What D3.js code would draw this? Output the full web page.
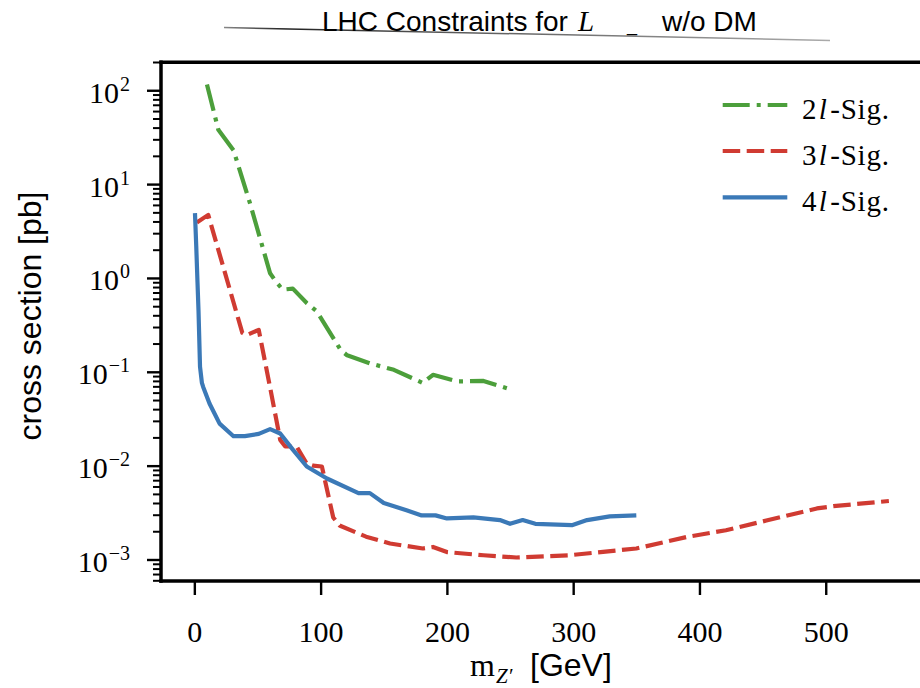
<!DOCTYPE html>
<html>
<head>
<meta charset="utf-8">
<script src="https://cdn.jsdelivr.net/npm/d3@7"></script>
<style>
  body { margin: 0; background: #fff; }
</style>
</head>
<body>
<script>
// data
var mass2l = [10, 19, 31, 44, 60, 65, 70, 78, 89, 97, 116, 121, 139, 158, 181, 189, 208, 229, 250];
var sig2l  = [115, 38, 23, 6.3, 1.12, 0.9, 0.75, 0.77, 0.54, 0.44, 0.17, 0.15, 0.123, 0.105, 0.076, 0.093, 0.079, 0.080, 0.065];

var mass3l = [2, 11, 38, 41, 51, 60, 68, 72, 81, 89, 94, 101, 110, 115, 136, 155, 181, 189, 200, 229, 255, 297, 350, 390, 421, 453, 493, 506, 550];
var sig3l  = [3.9, 4.7, 0.26, 0.245, 0.28, 0.068, 0.0188, 0.016, 0.016, 0.0105, 0.0100, 0.0098, 0.0028, 0.0023, 0.00175, 0.00148, 0.00131, 0.00136, 0.0012, 0.00111, 0.00105, 0.00111, 0.00131, 0.00174, 0.00205, 0.0026, 0.0035, 0.0037, 0.0042];

var mass4l = [0.5, 1.5, 2.5, 3.3, 4.5, 6, 7, 12, 20, 31, 40, 51, 60, 68, 78, 89, 105, 130, 139, 150, 168, 180, 191, 200, 221, 242, 250, 260, 270, 299, 311, 329, 350];
var sig4l  = [4.9, 2.2, 0.9, 0.45, 0.113, 0.076, 0.069, 0.046, 0.028, 0.0206, 0.0206, 0.0218, 0.0245, 0.022, 0.0148, 0.0098, 0.0073, 0.0051, 0.0051, 0.0040, 0.00335, 0.00295, 0.00295, 0.00274, 0.00281, 0.00263, 0.0024, 0.00263, 0.0024, 0.00232, 0.00263, 0.00288, 0.00295];

var seriesNames = ["2l", "3l", "4l"];
var xTicks = [0, 100, 200, 300, 400, 500];
var yTicks = [1e-3, 1e-2, 1e-1, 1e0, 1e1, 1e2];

window.onload = function(){

    var w = 920, h = 688;
    var serif = "'Liberation Serif', 'Times New Roman', serif";
    var sans = "'Liberation Sans', Arial, Helvetica, sans-serif";

    var svg = d3.select("body").append("svg")
        .attr("width", w)
        .attr("height", h);

    // gradient for the hand drawn line under the title
    var grad = svg.append("defs").append("linearGradient")
        .attr("id", "titleLine")
        .attr("gradientUnits", "userSpaceOnUse")
        .attr("x1", 224).attr("x2", 830).attr("y1", 0).attr("y2", 0);
    grad.append("stop").attr("offset", "0").attr("stop-color", "#888");
    grad.append("stop").attr("offset", "0.1").attr("stop-color", "#222");
    grad.append("stop").attr("offset", "0.35").attr("stop-color", "#555");
    grad.append("stop").attr("offset", "1").attr("stop-color", "#aaa");

    var x = d3.scaleLinear().domain([-26.4, 577.5]).range([161, 923.6]);
    var y = d3.scaleLog().domain([5.9e-4, 200]).range([581, 62]);

    // series styles
    var series = [
        {name: seriesNames[0], xs: mass2l, ys: sig2l, color: "#4c9f3b", dash: "27,7,4,7"},
        {name: seriesNames[1], xs: mass3l, ys: sig3l, color: "#d03b32", dash: "17.5,6.5"},
        {name: seriesNames[2], xs: mass4l, ys: sig4l, color: "#3b79b7", dash: null}
    ];

    var line = d3.line()
        .x(function(d){ return x(d[0]); })
        .y(function(d){ return y(d[1]); });

    svg.append("g").selectAll("path")
        .data(series)
        .enter().append("path")
        .attr("d", function(s){ return line(d3.zip(s.xs, s.ys)); })
        .attr("fill", "none")
        .attr("stroke", function(s){ return s.color; })
        .attr("stroke-width", 4.2)
        .attr("stroke-dasharray", function(s){ return s.dash; })
        .attr("stroke-linejoin", "round");

    // minor y ticks
    var minor = [];
    for (var e = -4; e <= 2; e++) {
        for (var m = 2; m <= 9; m++) {
            var v = m * Math.pow(10, e);
            if (v >= 5.9e-4 && v <= 200) minor.push(v);
        }
    }
    var yMinor = svg.append("g")
        .attr("transform", "translate(161,0)")
        .call(d3.axisLeft(y).tickValues(minor).tickSize(8).tickFormat(""));
    yMinor.select(".domain").remove();
    yMinor.selectAll("line").attr("stroke", "#000").attr("stroke-width", 2);

    // major y ticks
    var yAxis = svg.append("g")
        .attr("transform", "translate(161,0)")
        .call(d3.axisLeft(y).tickValues(yTicks).tickSize(14).tickFormat(""));
    yAxis.select(".domain").remove();
    yAxis.selectAll("line").attr("stroke", "#000").attr("stroke-width", 2.4);

    // y tick labels 10^k
    var yl = svg.append("g").selectAll("text")
        .data(yTicks)
        .enter().append("text")
        .attr("x", 130)
        .attr("y", function(d){ return y(d) + 12.5; })
        .attr("text-anchor", "end")
        .style("font-family", serif)
        .style("font-size", "30px");
    yl.append("tspan").text("10");
    yl.append("tspan")
        .attr("dy", -12)
        .attr("dx", 1)
        .style("font-size", "20px")
        .text(function(d){
            var k = Math.round(Math.log10(d));
            return k < 0 ? "\u2212" + (-k) : String(k);
        });

    // x axis
    var xAxis = svg.append("g")
        .attr("transform", "translate(0,581)")
        .call(d3.axisBottom(x).tickValues(xTicks).tickSize(14).tickPadding(26));
    xAxis.select(".domain").remove();
    xAxis.selectAll("line").attr("stroke", "#000").attr("stroke-width", 2.4);
    xAxis.selectAll("text")
        .attr("fill", "#000")
        .style("font-family", serif)
        .style("font-size", "30px");

    // spines
    svg.append("line").attr("x1", 161).attr("x2", 161).attr("y1", 60.5).attr("y2", 582.8)
        .attr("stroke", "#000").attr("stroke-width", 3.5);
    svg.append("line").attr("x1", 159.3).attr("x2", 920).attr("y1", 62.3).attr("y2", 62.3)
        .attr("stroke", "#000").attr("stroke-width", 3.5);
    svg.append("line").attr("x1", 159.3).attr("x2", 920).attr("y1", 581).attr("y2", 581)
        .attr("stroke", "#000").attr("stroke-width", 3.5);

    // legend
    var leg = svg.append("g").selectAll("g")
        .data(series)
        .enter().append("g")
        .attr("transform", function(s, i){ return "translate(0," + [105, 151, 197.3][i] + ")"; });
    leg.append("line")
        .attr("x1", 722.7).attr("x2", 787.3)
        .attr("stroke", function(s){ return s.color; })
        .attr("stroke-width", 4.2)
        .attr("stroke-dasharray", function(s){ return s.dash; });
    var lt = leg.append("text")
        .attr("x", 802)
        .attr("y", 14)
        .style("font-family", serif)
        .style("font-size", "29px")
        .style("letter-spacing", "0.8px");
    lt.append("tspan").text(function(s){ return s.name.charAt(0); });
    lt.append("tspan").attr("dx", 1.5).style("font-style", "italic").text("l");
    lt.append("tspan").attr("dx", 2.5).text("-Sig.");

    // axis labels
    svg.append("text")
        .attr("transform", "translate(41,316) rotate(-90)")
        .attr("text-anchor", "middle")
        .style("font-family", sans)
        .style("font-size", "32px")
        .text("cross section [pb]");

    svg.append("text").attr("x", 470).attr("y", 676)
        .style("font-family", serif).style("font-size", "32px").text("m");
    svg.append("text").attr("x", 496).attr("y", 683)
        .style("font-family", serif).style("font-size", "21px").style("font-style", "italic").text("Z\u2032");
    svg.append("text").attr("x", 530).attr("y", 676)
        .style("font-family", sans).style("font-size", "32px").text("[GeV]");

    // title
    svg.append("path")
        .attr("d", "M224,27.5 L830,40.5")
        .attr("fill", "none")
        .attr("stroke", "url(#titleLine)")
        .attr("stroke-width", 1.5);
    svg.append("text").attr("x", 322).attr("y", 31)
        .style("font-family", sans).style("font-size", "28px").text("LHC Constraints for");
    svg.append("text").attr("x", 578).attr("y", 31)
        .style("font-family", serif).style("font-size", "29px").style("font-style", "italic").text("L");
    svg.append("text").attr("x", 627).attr("y", 31)
        .style("font-family", sans).style("font-size", "18px").text("_");
    svg.append("text").attr("x", 662).attr("y", 31)
        .style("font-family", sans).style("font-size", "28px").text("w/o DM");
}
</script>
</body>
</html>
